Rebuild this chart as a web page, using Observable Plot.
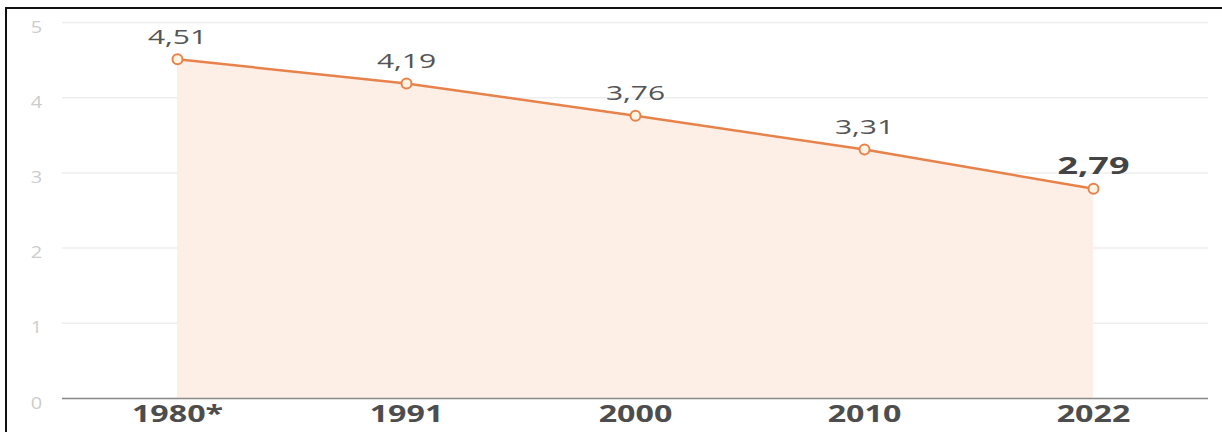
<!DOCTYPE html>
<html>
<head>
<meta charset="utf-8">
<script src="https://cdn.jsdelivr.net/npm/d3@7"></script>
<script src="https://cdn.jsdelivr.net/npm/@observablehq/plot@0.6"></script>
<style>
  html, body { margin: 0; padding: 0; background: #fff; }
  #wrap { position: relative; width: 1222px; height: 432px; overflow: hidden; }
  #wrap .edge-left { position: absolute; left: 5px; top: 7px; width: 2px; height: 425px; background: #111; }
  #wrap .edge-top { position: absolute; left: 5px; top: 7px; width: 1217px; height: 2px; background: #111; }
  #chart svg { display: block; font-family: "Open Sans", "Noto Sans", sans-serif; }
</style>
</head>
<body>
<div id="wrap">
  <div id="chart"></div>
  <div class="edge-left"></div>
  <div class="edge-top"></div>
</div>
<script>
// Average household size by census year
const years = ["1980*", "1991", "2000", "2010", "2022"];
const sizes = [4.51, 4.19, 3.76, 3.31, 2.79];
const yTicks = [0, 1, 2, 3, 4, 5];
const valueLabels = ["4,51", "4,19", "3,76", "3,31", "2,79"];

const rows = years.map((year, i) => ({year, size: sizes[i], label: valueLabels[i], last: i === years.length - 1}));

const orange = "#e8824b";

const chart = Plot.plot({
  width: 1222,
  height: 432,
  marginLeft: 62,
  marginRight: 14,
  marginTop: 22,
  marginBottom: 34,
  style: {fontFamily: "'Open Sans', 'Noto Sans', sans-serif", background: "transparent"},
  x: {type: "point", domain: years, padding: 0.5, axis: null},
  y: {domain: [0, 5], axis: null},
  marks: [
    Plot.gridY(yTicks, {stroke: "#eeeeee", strokeOpacity: 1, strokeWidth: 1.5}),
    Plot.areaY(rows, {x: "year", y: "size", fill: "#fdefe6", fillOpacity: 1}),
    Plot.ruleY([0], {stroke: "#8a8a8a", strokeWidth: 1.5}),
    Plot.lineY(rows, {x: "year", y: "size", stroke: orange, strokeWidth: 2.5}),
    Plot.dot(rows, {x: "year", y: "size", r: 5, fill: "#fdf4e4", stroke: orange, strokeWidth: 2}),
    // value labels
    Plot.text(rows.filter(d => !d.last), {x: "year", y: "size", text: "label", dy: -22, fontSize: 20, fill: "#555555", className: "wide"}),
    Plot.text(rows.filter(d => d.last), {x: "year", y: "size", text: "label", dy: -22, fontSize: 24, fontWeight: "bold", fill: "#444444", className: "wide"}),
    // y tick labels
    Plot.text(yTicks, {y: d => d, text: d => String(d), frameAnchor: "left", dx: -26, dy: 5, textAnchor: "middle", fontSize: 16, fill: "#cccccc", className: "narrow"}),
    // x tick labels
    Plot.text(years, {x: d => d, text: d => d, frameAnchor: "bottom", dy: 23, fontSize: 23, fontWeight: "bold", fill: "#4d4d4d", className: "axis"})
  ]
});

document.getElementById("chart").appendChild(chart);

// widen label glyphs horizontally around their own centre
function stretch(selector, s) {
  d3.select(chart).selectAll(selector).each(function () {
    const b = this.getBBox();
    const cx = b.x + b.width / 2;
    const prev = this.getAttribute("transform") || "";
    this.setAttribute("transform", `${prev} translate(${cx},0) scale(${s},1) translate(${-cx},0)`.trim());
  });
}
stretch(".wide text", 1.5);
stretch(".axis text", 1.4);
stretch(".narrow text", 1.25);
</script>
</body>
</html>
